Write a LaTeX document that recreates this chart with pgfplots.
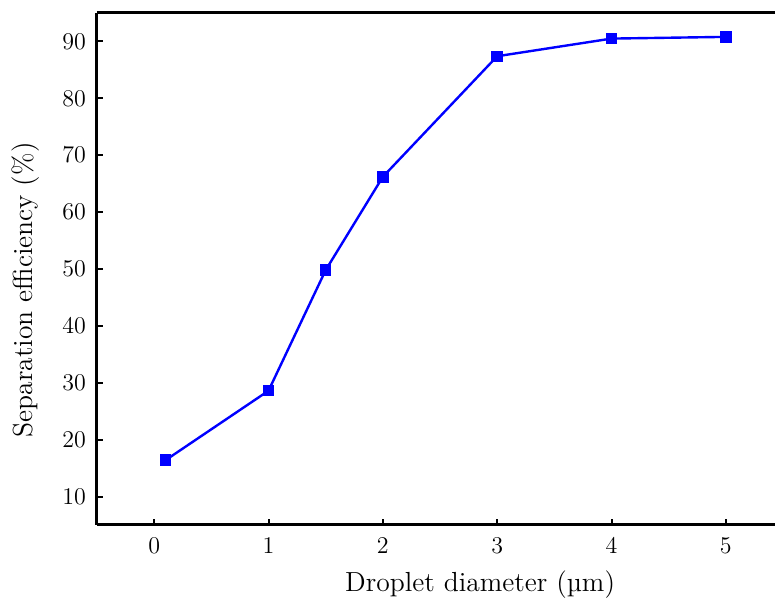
\documentclass[border=0pt]{standalone}
\usepackage{pgfplots}
\pgfplotsset{compat=1.18}
\begin{document}
\begin{tikzpicture}
\begin{axis}[
  scale only axis,
  width=339pt, height=256pt,
  xmin=-0.5, xmax=5.43,
  ymin=5, ymax=95,
  axis x line*=bottom,
  axis y line*=left,
  axis line style={line width=1.5pt},
  xtick={0,1,2,3,4,5},
  ytick={10,20,30,40,50,60,70,80,90},
  tick style={line width=1pt, black},
  tick align=inside,
  major tick length=3.2pt,
  tick label style={font=\fontsize{13}{15}\selectfont},
  yticklabel style={xshift=-2pt},
  xticklabel style={yshift=-3pt},
  xlabel={Droplet diameter (µm)},
  ylabel={Separation efficiency (\%)},
  label style={font=\fontsize{13.8}{16}\selectfont},
  x label style={at={(axis description cs:0.565,-0.117)}, anchor=center},
  y label style={at={(axis description cs:-0.105,0.459)}, anchor=center},
  after end axis/.code={\draw[line width=1.5pt] (rel axis cs:0,1) -- (rel axis cs:1,1);},
]
\addplot[color={rgb,255:red,0;green,0;blue,255}, line width=1.2pt, mark=square*, mark size=2.6pt,
  mark options={fill={rgb,255:red,0;green,0;blue,255}, draw={rgb,255:red,0;green,0;blue,255}, line width=0.5pt}]
coordinates {
(0.1,16.4) (1,28.6) (1.5,49.8) (2,66.2) (3,87.4) (4,90.5) (5,90.8)
};
\end{axis}
\pgfresetboundingbox
\path (current axis.south west) ++(-48.5pt,-40.5pt) coordinate (bbsw);
\path (current axis.north east) ++(0pt,6.5pt) coordinate (bbne);
\path[use as bounding box] (bbsw) rectangle (bbne);
\end{tikzpicture}
\end{document}
